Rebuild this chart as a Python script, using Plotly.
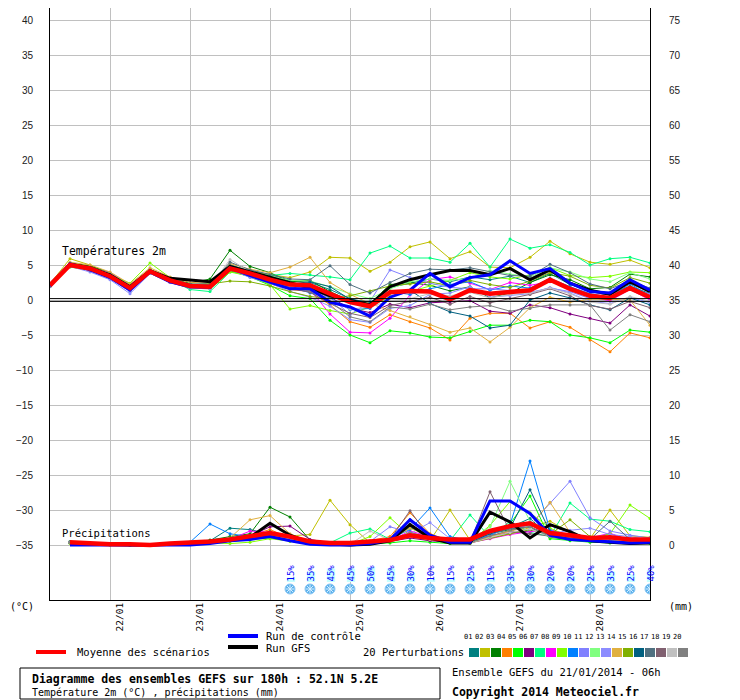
import plotly.graph_objects as go

# --- Données ---
heures_t = list(range(0, 181, 6))          # 21/01 06h -> 28/01 18h
heures_p = list(range(6, 181, 6))
jours = ["22/01", "23/01", "24/01", "25/01", "26/01", "27/01", "28/01"]
heures_jours = [18, 42, 66, 90, 114, 138, 162]

moyenne_t = [2.1, 5.0, 4.5, 3.4, 1.7, 4.1, 2.8, 2.0, 1.9, 4.5, 3.8, 2.9, 2.2, 2.1, 0.9, -0.3,
             -0.9, 1.1, 1.3, 1.2, 0.1, 1.4, 0.9, 1.2, 1.4, 2.9, 1.6, 0.6, 0.3, 1.7, 0.4]
controle_t = [2.0, 5.2, 4.3, 3.2, 1.4, 4.0, 2.6, 1.9, 1.8, 4.6, 3.5, 2.6, 1.6, 1.6, -0.3, -1.0,
              -2.3, 0.4, 1.4, 3.8, 1.9, 3.2, 3.6, 5.6, 3.8, 4.5, 2.4, 1.2, 1.0, 2.9, 1.4]
gfs_t = [2.2, 5.1, 4.6, 3.6, 1.9, 4.2, 3.1, 2.8, 2.6, 4.8, 4.0, 3.3, 2.4, 1.7, 0.6, 0.0,
         -0.7, 1.9, 2.9, 3.6, 4.2, 4.2, 3.6, 4.5, 2.9, 4.3, 2.4, 1.4, 0.8, 2.6, 1.2]

pert_t = [
    [2.0, 4.9, 4.6, 3.8, 1.5, 4.0, 2.9, 2.2, 2.4, 5.0, 4.2, 3.6, 2.8, 2.5, 1.5, 0.2, -0.6, 1.8, 2.4, 3.0, 2.6, 3.3, 2.9, 3.4, 2.5, 3.8, 2.2, 1.5, 0.8, 2.0, 0.9],
    [2.3, 5.9, 5.0, 3.7, 2.1, 4.4, 3.0, 2.3, 2.1, 4.9, 4.1, 3.6, 3.2, 4.0, 6.1, 6.0, 4.1, 5.4, 7.6, 8.3, 5.9, 6.9, 4.7, 4.6, 6.1, 8.4, 6.6, 5.4, 5.1, 5.7, 4.6],
    [2.1, 5.3, 4.9, 3.9, 2.0, 4.3, 3.0, 2.4, 3.0, 7.1, 4.8, 3.9, 2.6, 2.8, 1.2, -0.1, -0.5, 2.2, 2.5, 2.1, 1.3, 1.9, 0.3, 1.0, 2.5, 3.6, 2.9, 1.6, 1.8, 3.7, 3.3],
    [2.0, 4.8, 4.2, 3.1, 1.4, 3.8, 2.5, 1.7, 1.6, 4.1, 3.4, 2.3, 1.5, 1.2, -0.7, -3.1, -3.9, -2.1, -3.1, -4.0, -5.7, -2.6, -1.9, -1.9, -4.0, -3.1, -3.9, -5.7, -7.4, -4.7, -5.4],
    [2.0, 4.7, 4.3, 3.2, 1.3, 4.0, 2.6, 1.9, 1.7, 4.2, 3.3, 2.1, 0.6, 0.2, -2.9, -5.0, -6.1, -4.4, -4.7, -5.3, -5.4, -4.5, -3.6, -3.6, -2.9, -3.1, -5.0, -5.4, -6.1, -4.3, -4.6],
    [2.2, 5.0, 4.4, 3.3, 1.6, 4.1, 2.8, 2.1, 2.0, 4.4, 3.6, 2.7, 1.9, 1.5, 0.4, -1.2, -1.8, -0.6, -1.1, -0.4, -0.3, -0.1, -1.6, -1.9, -0.7, -1.1, -2.0, -2.6, -3.3, -0.7, -2.3],
    [2.1, 5.2, 4.4, 3.5, 1.9, 4.3, 2.9, 1.5, 1.2, 4.0, 3.7, 3.5, 3.8, 3.6, 3.3, 2.9, 6.7, 7.7, 6.0, 6.0, 5.4, 8.1, 4.7, 8.7, 7.4, 7.9, 6.8, 5.0, 5.9, 6.1, 5.3],
    [2.2, 5.0, 4.6, 3.9, 2.2, 4.3, 2.9, 2.0, 1.8, 4.3, 3.9, 3.1, 2.2, 1.5, -2.0, -4.6, -4.7, -2.6, 0.7, 2.9, 3.3, 2.4, 1.5, 2.5, 2.1, 2.6, 1.8, 0.4, -0.1, 1.5, 0.0],
    [2.0, 5.1, 4.5, 3.6, 2.4, 5.3, 3.2, 2.0, 1.6, 4.0, 3.4, 2.2, -1.3, -0.8, -1.5, -2.0, -1.0, 0.5, 1.2, 2.0, 2.8, 3.9, 3.3, 3.0, 3.6, 4.6, 3.5, 3.2, 3.4, 4.0, 3.9],
    [2.1, 5.0, 4.3, 3.3, 1.5, 4.0, 2.7, 2.0, 1.9, 4.6, 3.7, 2.6, 1.8, 1.0, 0.3, -1.4, -1.2, 1.2, 0.8, 1.6, 2.2, 2.6, 1.4, 2.0, 1.7, 3.1, 1.9, 0.9, 0.4, 2.3, 0.6],
    [2.0, 4.9, 4.4, 3.1, 1.2, 3.9, 2.7, 1.8, 1.8, 4.7, 3.9, 2.8, 2.1, 1.4, 0.5, -2.1, -0.2, 4.3, 3.2, 2.4, 1.8, 1.6, 1.6, 1.4, 1.1, 1.7, 1.2, 0.2, 1.1, 1.5, 0.9],
    [2.2, 5.1, 4.7, 3.8, 2.1, 4.4, 3.1, 2.2, 2.1, 4.8, 4.1, 3.4, 2.8, 2.7, 1.9, 0.9, 0.2, 1.6, 2.6, 3.0, 2.8, 3.1, 4.2, 3.7, 3.3, 4.6, 4.0, 3.0, 2.6, 3.9, 3.0],
    [1.9, 4.8, 4.0, 2.9, 0.9, 3.8, 2.5, 1.7, 1.6, 4.4, 3.2, 2.4, 1.2, 0.4, -0.9, -2.8, -3.2, -1.2, -0.8, 0.8, 1.0, 1.9, 0.4, 0.6, 0.9, 1.8, 1.0, -0.2, -0.5, 0.4, -0.4],
    [2.2, 5.4, 5.0, 4.0, 2.3, 4.6, 3.3, 2.5, 2.4, 5.2, 4.4, 3.9, 4.7, 6.1, 2.5, 0.8, -0.5, -1.5, -2.4, -3.5, -4.6, -4.0, -6.0, -3.9, -1.1, 0.4, -0.3, 0.1, 0.1, 0.0, -3.6],
    [2.0, 4.9, 4.3, 3.2, 1.6, 4.0, 2.7, 1.9, 2.3, 2.7, 2.6, 2.0, 1.2, 0.5, 0.2, 0.6, 1.3, 2.0, 2.3, 2.6, 2.0, 2.8, 2.2, 1.8, 2.7, 3.9, 3.4, 2.1, 1.7, 3.2, 2.4],
    [2.1, 5.0, 4.6, 3.5, 1.8, 4.2, 2.9, 2.1, 2.0, 4.9, 3.9, 3.0, 2.3, 2.6, 1.9, 0.1, -0.3, 1.0, 1.4, -0.5, -1.7, -2.3, -4.0, -3.6, 0.0, 1.0, 0.3, -0.7, -1.4, 0.3, -0.7],
    [2.1, 5.1, 4.7, 3.7, 1.9, 4.3, 3.0, 2.3, 2.2, 5.4, 4.3, 3.6, 3.0, 2.9, 4.9, 2.2, 1.0, 2.5, 3.8, 4.4, 4.3, 4.6, 4.0, 3.5, 3.4, 5.1, 3.9, 2.3, 1.6, 2.7, 1.7],
    [2.0, 4.8, 4.4, 3.5, 1.5, 3.9, 2.6, 1.9, 1.8, 4.3, 3.5, 2.7, 1.7, 1.1, -0.5, -1.9, -2.5, -0.8, -0.2, 0.4, -0.6, 0.5, -0.4, 0.2, 0.8, 1.6, 0.6, -0.8, -1.3, -0.2, -1.1],
    [2.1, 5.0, 4.5, 3.5, 1.8, 4.1, 2.8, 2.0, 1.9, 5.8, 4.0, 3.1, 2.0, 1.6, 0.1, -1.3, -1.0, -0.1, 0.2, 0.9, 0.6, 1.1, 0.3, 0.8, 1.0, 1.7, 0.9, -0.3, -0.6, 0.5, -0.2],
    [2.0, 4.9, 4.3, 3.3, 1.7, 4.0, 2.7, 1.9, 1.8, 4.4, 3.6, 2.6, 1.7, 1.3, -0.2, -2.4, -3.1, -1.0, -1.3, -0.6, -1.4, -1.0, -0.8, -1.6, -1.2, -0.7, -0.7, -0.7, -4.3, -2.1, -3.1],
]

moyenne_p = [0.4, 0.2, 0.1, 0.1, 0.0, 0.2, 0.3, 0.5, 0.8, 1.2, 1.7, 1.2, 0.5, 0.3, 0.3,
             0.5, 0.7, 1.4, 1.0, 0.8, 0.8, 2.0, 2.7, 3.1, 1.7, 1.4, 1.0, 1.1, 0.8, 0.8]
controle_p = [0.0, 0.0, 0.0, 0.0, 0.0, 0.0, 0.0, 0.2, 0.6, 0.8, 1.2, 0.6, 0.1, 0.0, 0.0,
              0.2, 0.7, 3.6, 1.4, 0.4, 0.4, 6.3, 6.3, 4.5, 1.4, 0.8, 0.6, 0.5, 0.3, 0.4]
gfs_p = [0.2, 0.1, 0.0, 0.0, 0.0, 0.1, 0.2, 0.4, 0.7, 1.1, 3.1, 1.4, 0.3, 0.1, 0.0,
         0.1, 0.6, 2.9, 1.0, 0.3, 0.3, 4.7, 3.3, 1.0, 2.9, 1.9, 0.6, 0.4, 0.2, 0.3]

pert_p = [
    [0.4, 0.2, 0.1, 0.0, 0.0, 0.2, 0.3, 0.6, 2.4, 2.2, 1.5, 0.9, 0.3, 0.2, 0.1, 0.4, 1.0, 2.5, 1.4, 0.5, 0.3, 1.8, 2.5, 3.8, 1.2, 1.5, 0.8, 1.6, 0.7, 0.9],
    [0.4, 0.2, 0.1, 0.1, 0.0, 0.2, 0.2, 0.4, 0.7, 1.0, 1.6, 1.3, 1.5, 6.4, 2.9, 0.3, 0.5, 1.2, 0.6, 5.0, 0.7, 1.0, 1.6, 2.5, 3.4, 1.8, 0.9, 5.0, 1.3, 1.1],
    [0.5, 0.3, 0.1, 0.1, 0.0, 0.2, 0.4, 0.7, 1.2, 1.6, 5.4, 4.0, 0.7, 0.3, 0.2, 0.4, 0.6, 1.6, 0.8, 0.4, 0.5, 1.6, 2.2, 2.6, 1.1, 0.8, 0.6, 0.9, 0.5, 0.6],
    [0.4, 0.2, 0.1, 0.0, 0.0, 0.2, 0.3, 0.4, 0.6, 1.4, 2.2, 1.0, 0.3, 0.2, 0.2, 0.6, 1.2, 4.6, 1.6, 0.6, 0.4, 1.2, 2.0, 3.0, 1.4, 1.0, 0.7, 0.8, 0.5, 0.4],
    [0.3, 0.1, 0.0, 0.0, 0.0, 0.1, 0.2, 0.3, 0.5, 0.8, 1.0, 0.6, 0.2, 0.1, 0.1, 0.2, 0.3, 0.6, 0.4, 0.2, 0.2, 1.4, 3.0, 7.0, 0.9, 0.6, 0.4, 0.3, 0.2, 0.2],
    [0.4, 0.2, 0.1, 0.1, 0.0, 0.2, 0.3, 0.5, 0.9, 1.3, 2.6, 2.7, 0.8, 0.3, 0.2, 0.3, 0.5, 1.0, 0.6, 0.4, 0.4, 1.4, 1.7, 2.0, 2.8, 1.8, 1.0, 0.7, 0.5, 0.6],
    [0.4, 0.2, 0.1, 0.0, 0.0, 0.1, 0.2, 0.4, 0.7, 1.0, 1.3, 0.9, 0.4, 0.3, 1.7, 2.3, 0.8, 1.5, 0.9, 0.6, 4.3, 1.1, 3.4, 1.8, 1.2, 6.0, 3.7, 3.4, 2.2, 1.9],
    [0.4, 0.2, 0.1, 0.1, 0.0, 0.2, 0.3, 0.5, 0.8, 2.0, 1.8, 0.9, 0.3, 0.2, 0.1, 0.3, 0.6, 2.0, 1.2, 0.4, 0.3, 0.9, 1.5, 1.9, 2.2, 1.3, 1.0, 1.7, 0.6, 1.0],
    [0.3, 0.1, 0.1, 0.0, 0.0, 0.1, 0.2, 0.3, 0.2, 0.4, 0.9, 0.5, 0.2, 0.1, 0.1, 1.2, 3.9, 1.3, 0.8, 0.5, 0.4, 2.8, 6.2, 4.6, 2.4, 1.2, 0.8, 1.6, 5.7, 3.8],
    [0.4, 0.2, 0.1, 0.1, 0.0, 0.2, 0.4, 3.0, 1.6, 1.2, 1.4, 0.7, 0.3, 0.2, 0.2, 0.4, 0.9, 2.2, 5.3, 1.2, 0.6, 1.3, 2.9, 12.0, 2.1, 1.2, 0.8, 0.9, 0.6, 0.7],
    [0.4, 0.2, 0.1, 0.0, 0.0, 0.2, 0.3, 0.5, 0.8, 1.1, 1.5, 1.0, 0.4, 0.3, 0.2, 0.5, 2.6, 1.8, 1.0, 0.6, 0.5, 1.5, 2.4, 2.8, 6.0, 9.1, 3.9, 2.0, 1.4, 1.0],
    [0.4, 0.2, 0.1, 0.1, 0.0, 0.2, 0.3, 0.5, 0.7, 1.0, 1.4, 1.0, 0.4, 0.2, 0.2, 0.5, 0.8, 1.4, 1.0, 0.6, 0.5, 2.6, 9.1, 3.4, 1.8, 1.4, 1.0, 1.2, 0.9, 0.8],
    [0.4, 0.2, 0.1, 0.0, 0.0, 0.2, 0.3, 0.5, 0.8, 1.1, 1.5, 1.1, 0.4, 0.2, 0.2, 0.4, 0.7, 1.6, 3.2, 0.9, 0.6, 1.8, 2.6, 3.3, 1.6, 2.1, 2.4, 1.5, 1.2, 0.7],
    [0.4, 0.2, 0.1, 0.1, 0.0, 0.2, 0.3, 0.5, 1.0, 3.6, 4.2, 1.6, 0.5, 0.3, 0.2, 0.4, 0.8, 2.4, 1.2, 0.5, 0.4, 1.2, 2.0, 2.7, 6.1, 1.8, 0.9, 0.8, 0.6, 0.5],
    [0.3, 0.1, 0.1, 0.0, 0.0, 0.1, 0.2, 0.4, 0.6, 0.9, 1.2, 0.8, 0.3, 0.2, 0.1, 0.3, 0.5, 1.3, 0.8, 0.4, 0.3, 1.0, 1.6, 2.2, 1.5, 3.6, 1.2, 0.8, 0.5, 0.6],
    [0.4, 0.2, 0.1, 0.1, 0.0, 0.2, 0.3, 0.5, 0.9, 1.4, 1.9, 1.0, 0.4, 0.2, 0.2, 0.4, 0.8, 3.6, 1.3, 0.5, 0.4, 1.6, 2.4, 7.9, 1.9, 1.2, 0.8, 0.9, 0.7, 0.6],
    [0.4, 0.2, 0.1, 0.0, 0.0, 0.2, 0.3, 0.5, 0.8, 1.2, 1.6, 1.1, 0.4, 0.2, 0.2, 0.5, 0.9, 3.0, 1.2, 0.6, 0.5, 1.8, 2.3, 2.6, 1.3, 1.0, 0.8, 3.4, 0.8, 0.7],
    [0.4, 0.2, 0.1, 0.1, 0.0, 0.2, 0.3, 0.5, 0.8, 1.2, 1.5, 1.0, 0.4, 0.2, 0.2, 0.4, 0.8, 4.9, 1.0, 0.5, 0.4, 7.6, 2.0, 1.6, 1.3, 1.1, 0.7, 0.9, 0.6, 0.7],
    [0.4, 0.2, 0.1, 0.0, 0.0, 0.2, 0.3, 0.5, 0.7, 1.0, 1.3, 0.9, 0.3, 0.2, 0.1, 2.0, 0.7, 1.2, 0.8, 0.4, 0.3, 1.1, 1.8, 2.3, 1.2, 0.9, 0.6, 0.8, 0.5, 0.5],
    [0.4, 0.2, 0.1, 0.1, 0.0, 0.2, 0.3, 0.5, 0.8, 1.1, 1.4, 1.0, 0.3, 0.2, 0.2, 0.3, 0.6, 1.8, 1.1, 0.4, 0.3, 1.3, 2.1, 2.6, 1.2, 1.0, 0.7, 0.9, 0.6, 0.7],
]

pert_couleurs = ["#008080", "#c0c000", "#008000", "#ff8000", "#00ff00", "#800080", "#00ff80",
                 "#ff00ff", "#80ff00", "#0080ff", "#8080ff", "#80ff80", "#8c8cff", "#e0b040",
                 "#80b000", "#006080", "#507080", "#806070", "#c0c0c0", "#808080"]

# probabilité de neige (%)
heures_neige = list(range(72, 181, 6))
neige_pct = [15, 35, 45, 45, 50, 45, 30, 10, 15, 25, 15, 35, 30, 20, 20, 25, 35, 25, 40]

# --- Géométrie ---
# la page ajoute une marge de 8 px : la figure couvre les pixels 8..740 / 8..700
# de l'image ; zone de tracé = pixels 50..650 (x) et 8..600 (y), 7 px par degré
YBAS = -300 / 7
YHAUT = 292 / 7
MONO = "DejaVu Sans Mono"


def px_x(x):
    return (x - 50) / 600


def px_y(y):
    return (600 - y) / 592


def val_y(y):
    return (300 - y) / 7


fig = go.Figure()

# barres cyan derrière les pourcentages
fig.add_trace(go.Bar(
    x=[h + 0.3 for h in heures_neige], y=[p * 0.3 / 7 for p in neige_pct],
    base=val_y(582), width=2.5, marker=dict(color="#c8ffff", line_width=0),
    yaxis="y", hoverinfo="skip"))

# perturbations
for i, c in enumerate(pert_couleurs):
    fig.add_trace(go.Scatter(x=heures_t, y=pert_t[i], mode="lines+markers",
                             line=dict(color=c, width=1), marker=dict(color=c, size=3),
                             yaxis="y", hoverinfo="skip"))
    fig.add_trace(go.Scatter(x=heures_p, y=pert_p[i], mode="lines+markers",
                             line=dict(color=c, width=1), marker=dict(color=c, size=3),
                             yaxis="y2", hoverinfo="skip"))

for yt, yp, c, w in [(gfs_t, gfs_p, "black", 3), (controle_t, controle_p, "#0000ff", 3),
                     (moyenne_t, moyenne_p, "#ff0000", 4.5)]:
    fig.add_trace(go.Scatter(x=heures_t, y=yt, mode="lines", line=dict(color=c, width=w),
                             yaxis="y", hoverinfo="skip"))
    fig.add_trace(go.Scatter(x=heures_p, y=yp, mode="lines", line=dict(color=c, width=w),
                             yaxis="y2", hoverinfo="skip"))

# icônes neige
y_icone = [val_y(589)] * len(heures_neige)
fig.add_trace(go.Scatter(x=heures_neige, y=y_icone, mode="markers",
                         marker=dict(symbol="circle", size=10, color="#5ab0ec",
                                     line=dict(color="#8cc8f4", width=1)),
                         yaxis="y", hoverinfo="skip"))
fig.add_trace(go.Scatter(x=heures_neige, y=y_icone, mode="markers",
                         marker=dict(symbol="asterisk-open", size=7, color="#d8f0ff",
                                     line=dict(color="#d8f0ff", width=1)),
                         yaxis="y", hoverinfo="skip"))

annotations = []
for h, p in zip(heures_neige, neige_pct):
    annotations.append(dict(x=h, y=val_y(584), xref="x", yref="y", text=f"{p}%",
                            textangle=-90, showarrow=False, yanchor="bottom",
                            font=dict(family=MONO, size=9, color="#0000ff")))

for h, j in zip(heures_jours, jours):
    annotations.append(dict(x=h, y=px_y(601), xref="x", yref="paper", text=j, xshift=9,
                            textangle=-90, showarrow=False, yanchor="top",
                            font=dict(family=MONO, size=9.5, color="black")))


def texte(x, y, t, size=10.5, bold=False, xanchor="left", color="black"):
    annotations.append(dict(x=px_x(x), y=px_y(y), xref="paper", yref="paper",
                            text=f"<b>{t}</b>" if bold else t, showarrow=False,
                            xanchor=xanchor, yanchor="middle",
                            font=dict(family=MONO, size=size, color=color)))


texte(60, 251, "Températures 2m", 11.5)
texte(60, 533, "Précipitations", 10.5)
texte(22, 606, "(°C)", 10, xanchor="center")
texte(681, 606, "(mm)", 10, xanchor="center")
texte(75, 652, "Moyenne des scénarios", 10.5)
texte(264, 636, "Run de contrôle", 10.5)
texte(264, 648, "Run GFS", 10.5)
texte(466, 652, "20 Perturbations", 10.5, xanchor="right")
texte(30, 679, "Diagramme des ensembles GEFS sur 180h : 52.1N 5.2E", 11.5, bold=True)
texte(30, 692, "Température 2m (°C) , précipitations (mm)", 10)
texte(450, 672, "Ensemble GEFS du 21/01/2014 - 06h", 10.5)
texte(450, 692, "Copyright 2014 Meteociel.fr", 11.5, bold=True)

shapes = []
# double ligne du zéro
for dy in (0.2, -0.2):
    shapes.append(dict(type="line", xref="paper", yref="y", x0=0, x1=1, y0=dy, y1=dy,
                       line=dict(color="black", width=1)))
# légende
for x0, x1, y, c, w in [(36, 66, 652, "#ff0000", 4), (228, 258, 636, "#0000ff", 4),
                        (228, 258, 647, "black", 4)]:
    shapes.append(dict(type="line", xref="paper", yref="paper", x0=px_x(x0), x1=px_x(x1),
                       y0=px_y(y), y1=px_y(y), line=dict(color=c, width=w)))
for i, c in enumerate(pert_couleurs):
    x0 = 469 + 11 * i
    shapes.append(dict(type="rect", xref="paper", yref="paper", x0=px_x(x0), x1=px_x(x0 + 10),
                       y0=px_y(657), y1=px_y(648), fillcolor=c, line_width=0))
    annotations.append(dict(x=px_x(x0 + 5), y=px_y(643), xref="paper", yref="paper",
                            text=f"{i + 1:02d}", showarrow=False,
                            font=dict(family=MONO, size=7, color="black")))
shapes.append(dict(type="rect", xref="paper", yref="paper", x0=px_x(20), x1=px_x(440),
                   y0=px_y(699), y1=px_y(668), line=dict(color="black", width=1)))

fig.update_layout(
    width=732, height=692,
    margin=dict(l=42, r=90, t=0, b=100),
    paper_bgcolor="white", plot_bgcolor="white",
    showlegend=False, barmode="overlay", hovermode=False,
    xaxis=dict(range=[0, 180], tickvals=heures_jours, showticklabels=False, ticks="",
               showgrid=True, gridcolor="#c0c0c0", gridwidth=1, zeroline=False,
               showline=True, linecolor="black", linewidth=1),
    yaxis=dict(range=[YBAS, YHAUT], tickvals=list(range(-35, 41, 5)), showgrid=True,
               gridcolor="#c0c0c0", gridwidth=1, zeroline=False, ticks="",
               showline=True, linecolor="black", linewidth=1, ticklabelstandoff=14,
               tickfont=dict(family="Liberation Sans", size=10, color="#202020")),
    yaxis2=dict(range=[YBAS + 35, YHAUT + 35], tickvals=list(range(0, 76, 5)),
                overlaying="y", side="right", showgrid=False, zeroline=False, ticks="",
                showline=True, linecolor="black", linewidth=1, ticklabelstandoff=16,
                tickfont=dict(family="Liberation Sans", size=10, color="#202020")),
    shapes=shapes, annotations=annotations,
)

fig.write_html("out.html")
